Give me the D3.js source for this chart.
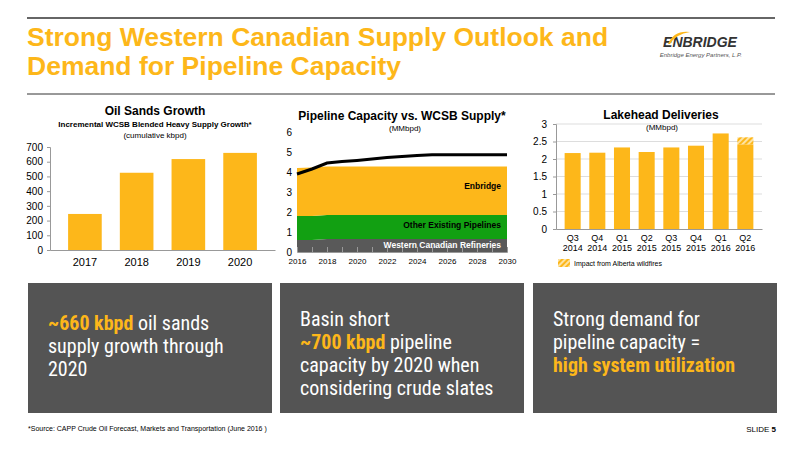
<!DOCTYPE html>
<html><head><meta charset="utf-8">
<script src="https://cdn.jsdelivr.net/npm/d3@7"></script>
<style>body{margin:0;background:#fff}svg{display:block;font-family:"Liberation Sans",Arial,sans-serif}</style>
</head><body><div id="c"></div>
<script>
const ORANGE = "#fdb71a"

// left chart
const oilYears = ["2017", "2018", "2019", "2020"]
const oilGrowth = [245, 525, 618, 660]
const oilTicks = [0, 100, 200, 300, 400, 500, 600, 700]

// middle chart
const capYears = [2016, 2017, 2018, 2019, 2020, 2021, 2022, 2023, 2024, 2025, 2026, 2027, 2028, 2029, 2030]
const refineries = [0.6, 0.6, 0.65, 0.65, 0.65, 0.65, 0.65, 0.65, 0.65, 0.65, 0.65, 0.65, 0.65, 0.65, 0.65]
const otherPipes = [1.2, 1.2, 1.2, 1.2, 1.2, 1.2, 1.2, 1.2, 1.2, 1.2, 1.2, 1.2, 1.2, 1.2, 1.2]
const enbridge = [2.4, 2.43, 2.43, 2.43, 2.43, 2.43, 2.43, 2.43, 2.43, 2.43, 2.43, 2.43, 2.43, 2.43, 2.43]
const supply = [3.9, 4.15, 4.45, 4.52, 4.58, 4.65, 4.72, 4.78, 4.83, 4.86, 4.86, 4.86, 4.86, 4.86, 4.86]

// right chart
const quarters = [["Q3", "2014"], ["Q4", "2014"], ["Q1", "2015"], ["Q2", "2015"], ["Q3", "2015"], ["Q4", "2015"], ["Q1", "2016"], ["Q2", "2016"]]
const deliveries = [2.17, 2.18, 2.33, 2.2, 2.33, 2.38, 2.73, 2.42]
const wildfire = [0, 0, 0, 0, 0, 0, 0, 0.2]
const lakeTicks = [0, 0.5, 1, 1.5, 2, 2.5, 3]

const svg = d3.select("#c").append("svg").attr("width", 800).attr("height", 450)

const defs = svg.append("defs")
const pat = defs.append("pattern").attr("id", "hatch").attr("width", 4).attr("height", 4)
  .attr("patternUnits", "userSpaceOnUse").attr("patternTransform", "rotate(45)")
pat.append("rect").attr("width", 4).attr("height", 4).attr("fill", "#fde3a3")
pat.append("rect").attr("width", 2).attr("height", 4).attr("fill", ORANGE)

// header
svg.append("line").attr("x1", 27).attr("x2", 775).attr("y1", 18).attr("y2", 18).attr("stroke", "#333").attr("stroke-width", 1.5)
svg.append("line").attr("x1", 27).attr("x2", 775).attr("y1", 94).attr("y2", 94).attr("stroke", "#333").attr("stroke-width", 1)
svg.selectAll(".title").data(["Strong Western Canadian Supply Outlook and", "Demand for Pipeline Capacity"])
  .join("text").attr("x", 27).attr("y", (d, i) => 46 + i * 29)
  .attr("fill", ORANGE).attr("font-size", 26.5).attr("font-weight", "bold").text(d => d)
svg.append("text").attr("x", 700).attr("y", 47).attr("text-anchor", "middle").attr("font-size", 14)
  .attr("font-weight", "bold").attr("font-style", "italic").attr("fill", "#333").text("ENBRIDGE")
svg.append("text").attr("x", 742).attr("y", 57).attr("text-anchor", "end").attr("font-size", 6)
  .attr("font-style", "italic").attr("fill", "#555").text("Enbridge Energy Partners, L.P.")
svg.append("path").attr("d", "M668,44 q6,-14 22,-12 q-14,2 -20,12 z").attr("fill", ORANGE)

function axisStyle(g) {
  g.select(".domain").attr("stroke", "#999")
  g.selectAll(".tick line").attr("stroke", "#999")
  g.selectAll("text").attr("fill", "#000").attr("font-size", 10)
}

// ---- left chart
{
  const x = d3.scaleBand().domain(oilYears).range([50, 275]).padding(0.35)
  const y = d3.scaleLinear().domain([0, 700]).range([250, 147])
  svg.selectAll(".ob").data(oilGrowth).join("rect")
    .attr("x", (d, i) => x(oilYears[i])).attr("width", x.bandwidth())
    .attr("y", d => y(d)).attr("height", d => y(0) - y(d)).attr("fill", ORANGE)
  svg.append("g").attr("transform", "translate(50,0)")
    .call(d3.axisLeft(y).tickValues(oilTicks).tickSize(3).tickPadding(4)).call(axisStyle)
  svg.append("g").attr("transform", "translate(0,250)")
    .call(d3.axisBottom(x).tickSize(0).tickPadding(8)).call(axisStyle)
    .call(g => g.selectAll("text").attr("font-size", 11))
  svg.append("text").attr("x", 155).attr("y", 115).attr("text-anchor", "middle").attr("font-size", 12).attr("font-weight", "bold").text("Oil Sands Growth")
  svg.append("text").attr("x", 155).attr("y", 127).attr("text-anchor", "middle").attr("font-size", 8).attr("font-weight", "bold").text("Incremental WCSB Blended Heavy Supply Growth*")
  svg.append("text").attr("x", 155).attr("y", 138).attr("text-anchor", "middle").attr("font-size", 8).text("(cumulative kbpd)")
}

// ---- middle chart
{
  const x = d3.scaleLinear().domain([2016, 2030]).range([297, 507])
  const y = d3.scaleLinear().domain([0, 6]).range([252, 132])
  const rows = capYears.map((yr, i) => ({ yr, ref: refineries[i], oth: otherPipes[i], enb: enbridge[i] }))
  const stack = d3.stack().keys(["ref", "oth", "enb"])(rows)
  const colors = { ref: "#595959", oth: "#12a012", enb: ORANGE }
  svg.selectAll(".ar").data(stack).join("path")
    .attr("fill", d => colors[d.key])
    .attr("d", d3.area().x(d => x(d.data.yr)).y0(d => y(d[0])).y1(d => y(d[1])))
  svg.append("path").datum(supply).attr("fill", "none").attr("stroke", "#000").attr("stroke-width", 3)
    .attr("d", d3.line().x((d, i) => x(capYears[i])).y(d => y(d)))
  svg.append("g").attr("transform", "translate(297,0)")
    .call(d3.axisLeft(y).ticks(6).tickSize(0).tickPadding(5)).call(axisStyle)
    .call(g => g.select(".domain").remove())
  svg.append("g").attr("transform", "translate(0,252)")
    .call(d3.axisBottom(x).tickValues(capYears).tickSize(-5).tickPadding(6)
      .tickFormat(d => d % 2 === 0 ? d : "")).call(axisStyle)
    .call(g => g.selectAll("text").attr("font-size", 8))
  svg.append("text").attr("x", 402).attr("y", 120).attr("text-anchor", "middle").attr("font-size", 12).attr("font-weight", "bold").text("Pipeline Capacity vs. WCSB Supply*")
  svg.append("text").attr("x", 405).attr("y", 131).attr("text-anchor", "middle").attr("font-size", 8).text("(MMbpd)")
  const labels = [["Enbridge", 3.15, "#000"], ["Other Existing Pipelines", 1.2, "#000"], ["Western Canadian Refineries", 0.2, "#fff"]]
  svg.selectAll(".al").data(labels).join("text").attr("x", 501).attr("y", d => y(d[1]))
    .attr("text-anchor", "end").attr("font-size", 8.5).attr("font-weight", "bold").attr("fill", d => d[2]).text(d => d[0])
}

// ---- right chart
{
  const labels = quarters.map(q => q.join(" "))
  const x = d3.scaleBand().domain(labels).range([556, 762]).padding(0.35)
  const y = d3.scaleLinear().domain([0, 3]).range([229, 124])
  svg.append("g").selectAll("line").data(lakeTicks.slice(1)).join("line")
    .attr("x1", 556).attr("x2", 762).attr("y1", d => y(d)).attr("y2", d => y(d)).attr("stroke", "#ddd")
  svg.selectAll(".lb").data(deliveries).join("rect")
    .attr("x", (d, i) => x(labels[i])).attr("width", x.bandwidth())
    .attr("y", d => y(d)).attr("height", d => y(0) - y(d)).attr("fill", ORANGE)
  svg.selectAll(".lw").data(wildfire).join("rect")
    .attr("x", (d, i) => x(labels[i])).attr("width", x.bandwidth())
    .attr("y", (d, i) => y(deliveries[i] + d)).attr("height", d => y(0) - y(d)).attr("fill", "url(#hatch)")
  svg.append("g").attr("transform", "translate(556,0)")
    .call(d3.axisLeft(y).tickValues(lakeTicks).tickSize(3).tickPadding(6).tickFormat(d3.format("~g"))).call(axisStyle)
  const xa = svg.append("g").attr("transform", "translate(0,229)")
    .call(d3.axisBottom(x).tickSize(0).tickPadding(6)).call(axisStyle)
  xa.selectAll(".tick text").each(function (d) {
    const t = d3.select(this), parts = d.split(" ")
    t.text(null).attr("font-size", 9)
    parts.forEach((p, j) => t.append("tspan").attr("x", 0).attr("dy", j ? "1.1em" : "0.71em").text(p))
  })
  svg.append("text").attr("x", 661).attr("y", 119).attr("text-anchor", "middle").attr("font-size", 12).attr("font-weight", "bold").text("Lakehead Deliveries")
  svg.append("text").attr("x", 662).attr("y", 130).attr("text-anchor", "middle").attr("font-size", 8).text("(MMbpd)")
  svg.append("rect").attr("x", 558).attr("y", 259).attr("width", 12).attr("height", 8).attr("fill", "url(#hatch)")
  svg.append("text").attr("x", 574).attr("y", 266).attr("font-size", 7).text("Impact from Alberta wildfires")
}

// ---- bottom panels
const panels = [
  { x: 28, lines: [[["~660 kbpd", true], [" oil sands", false]], [["supply growth through", false]], [["2020", false]]] },
  { x: 280, lines: [[["Basin short", false]], [["~700 kbpd", true], [" pipeline", false]], [["capacity by 2020 when", false]], [["considering crude slates", false]]] },
  { x: 533, lines: [[["Strong demand for", false]], [["pipeline capacity =", false]], [["high system utilization", true]]] }
]
panels.forEach(p => {
  svg.append("rect").attr("x", p.x).attr("y", 283).attr("width", 244).attr("height", 130).attr("fill", "#545454")
  p.lines.forEach((ln, i) => {
    const t = svg.append("text").attr("x", p.x + 20).attr("y", (p.x === 28 ? 330 : 326) + i * 23)
      .attr("font-size", 20).attr("font-family", "'Liberation Sans Narrow','Roboto Condensed',Arial,sans-serif")
    ln.forEach(([s, b]) => t.append("tspan").attr("fill", b ? ORANGE : "#fff").attr("font-weight", b ? "bold" : "normal").text(s))
  })
})
svg.append("text").attr("x", 28).attr("y", 431).attr("font-size", 7).text("*Source: CAPP Crude Oil Forecast, Markets and Transportation  (June 2016 )")
const sl = svg.append("text").attr("x", 776).attr("y", 432).attr("text-anchor", "end").attr("font-size", 8)
sl.append("tspan").text("SLIDE ")
sl.append("tspan").attr("font-weight", "bold").text("5")
</script></body></html>
